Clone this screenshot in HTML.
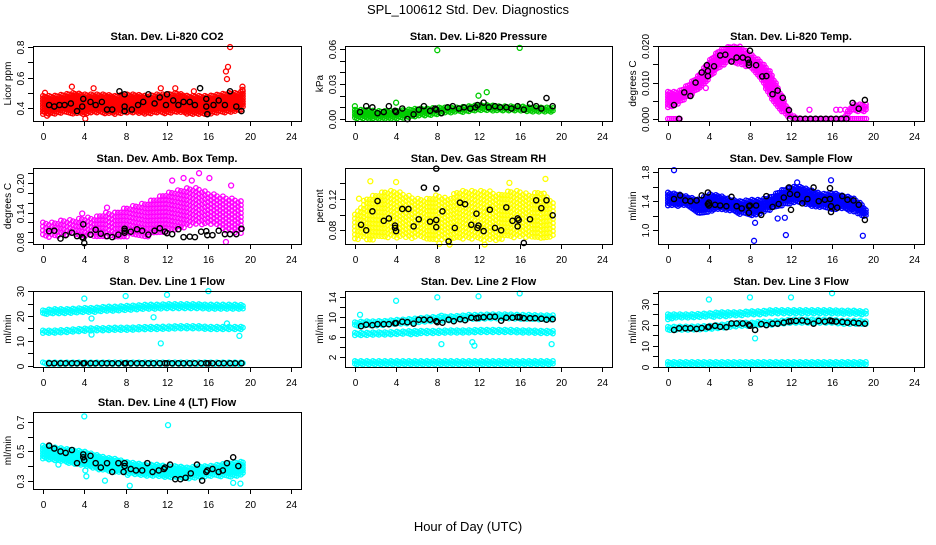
<!DOCTYPE html>
<html><head><meta charset="utf-8"><style>
html,body{margin:0;padding:0;background:#fff;}
svg text{font-family:"Liberation Sans",Arial,sans-serif;}
</style></head><body>
<svg id="chart" width="936" height="540" viewBox="0 0 936 540" xmlns="http://www.w3.org/2000/svg">
<text x="468" y="14" text-anchor="middle" font-size="13">SPL_100612  Std. Dev. Diagnostics</text>
<text x="468" y="531" text-anchor="middle" font-size="13">Hour of Day (UTC)</text>
</svg>
<script>
// shared x ticks and band times
const xTicks = [0,4,8,12,16,20,24];
const bandT = [0,1,2,3,4,5,6,7,8,9,10,11,12,13,14,15,16,17,18,19,19.4];
const lineT = [0.6,1.1,1.7,2.2,2.8,3.3,3.9,4,4.6,5.1,5.7,6.2,6.7,7.3,7.9,8,8.5,9.1,9.6,10.2,10.7,11.3,11.8,12,12.5,13.1,13.6,14.2,14.7,15.3,15.8,16,16.4,17,17.5,18.1,18.6,19.2];

// CO2
const co2Lo = [.36,.36,.37,.36,.36,.37,.36,.36,.37,.37,.36,.37,.36,.37,.36,.36,.36,.37,.37,.38,.40];
const co2Hi = [.48,.48,.49,.50,.49,.49,.49,.48,.49,.49,.48,.49,.49,.50,.48,.48,.48,.49,.50,.50,.52];
const co2OutT = [18.1,17.7,17.9,17.8,19.3,19.3,2.8,4.9,4.1,0.4,11.4,12.8,0.2,14.6];
const co2OutV = [0.8,0.64,0.67,0.59,0.54,0.52,0.54,0.53,0.33,0.35,0.53,0.53,0.50,0.51];
const co2BlkT = [0.6,1.1,1.6,2.1,2.7,3.3,3.8,3.9,4.6,5.1,5.7,6.2,6.7,7.4,7.9,7.9,7.9,8.6,9.2,9.7,10.2,10.8,11.3,11.9,12,12.6,13.1,13.6,14.2,14.7,15.2,15.8,15.8,15.9,16.5,17,17.6,18.1,18.7,19.2];
const co2BlkV = [.42,.41,.42,.42,.43,.38,.41,.46,.44,.42,.44,.39,.39,.51,.49,.41,.38,.39,.42,.44,.49,.43,.47,.42,.49,.45,.42,.44,.44,.42,.53,.46,.41,.36,.42,.45,.42,.51,.41,.38];

// Pressure
const prsLo = [0,0,0,0,0,.001,.002,.003,.004,.005,.006,.006,.007,.007,.007,.007,.007,.006,.006,.006,.007];
const prsHi = [.008,.008,.007,.007,.007,.008,.009,.009,.010,.010,.010,.011,.012,.012,.011,.011,.011,.010,.010,.010,.009];
const prsOutT = [8,16,12,12.8,4,0];
const prsOutV = [.059,.061,.020,.023,.014,.011];
const prsBlkT = [0.5,1.1,1.7,2.2,2.8,3.3,3.9,4,4.6,5.1,5.7,6.2,6.7,7.3,7.8,7.9,8.4,9,9.5,10.1,10.6,11.2,11.7,11.9,12.5,13,13.6,14.1,14.7,15.2,15.8,16.4,17,17.6,18.1,18.6,19.2];
const prsBlkV = [.006,.011,.010,.005,.006,.011,.007,.006,.009,0,.004,.008,.011,.007,.009,.008,.005,.010,.011,.009,.010,.009,.010,.012,.014,.010,.011,.010,.010,.009,.011,.008,.013,.011,.009,.018,.011];

// Li-820 temp
const tmpLo = [.003,.004,.006,.008,.011,.014,.016,.015,.014,.011,.006,.002,0,0,0,0,0,0,.002,.002,.002];
const tmpHi = [.0075,.0075,.0095,.012,.016,.019,.020,.020,.018,.016,.013,.007,.001,0,0,0,0,0,.004,.004,.004];
const tmpZeroT = [0,1.2,17,19.4];
const tmpOutT = [13.8,16.4,16.8,17.3,3.7];
const tmpOutV = [.0025,.0025,.0025,.0025,.0085];
const tmpBlkT = [0.6,1.1,1.6,2.2,2.7,3.3,3.8,3.9,3.9,4.5,5.1,5.6,6.2,6.7,7.3,7.8,7.9,7.9,8,8.6,9.2,9.6,10.2,10.7,11.2,11.8,11.9,12.4,12.9,13.4,13.9,14.4,14.9,15.4,15.9,16.4,16.9,17.4,18,18.6,19.2];
const tmpBlkV = [.0038,0,.0073,.0063,.0100,.0128,.0148,.0132,.0118,.0145,.0175,.0177,.0158,.0169,.0169,.0164,.0148,.0155,.0188,.0148,.0117,.0118,.0068,.0078,.0058,.0024,0,0,0,0,0,0,0,0,0,0,0,0,.0044,.0028,.0052];

// Amb box temp
const ambLo = [.09,.09,.095,.095,.09,.09,.09,.09,.09,.09,.09,.095,.10,.105,.11,.115,.115,.11,.10,.095,.09];
const ambHi = [.12,.12,.125,.125,.13,.13,.14,.14,.15,.155,.16,.17,.18,.185,.19,.19,.18,.175,.17,.165,.16];
const ambOutT = [15.1,13.6,16.1,17.7,3.8,6.2,12.5,14.4,18.2];
const ambOutV = [.22,.21,.21,.08,.138,.15,.205,.205,.195];
const ambBlkT = [0.6,1.1,1.7,2.2,2.8,3.3,3.8,3.9,3.9,4,4.6,5.1,5.6,6.2,6.7,7.3,7.9,7.9,7.9,8.5,9.1,9.6,10.2,10.8,11.3,11.8,12,12.5,13.1,13.6,14.2,14.7,15.3,15.8,15.9,16.4,17,17.6,18.1,18.7,19.2];
const ambBlkV = [.102,.103,.087,.094,.099,.092,.090,.116,.088,.078,.095,.105,.097,.092,.090,.095,.107,.103,.099,.101,.106,.103,.095,.103,.108,.101,.098,.096,.106,.090,.091,.090,.101,.102,.094,.094,.103,.096,.096,.096,.107];

// Gas stream RH
const rhLo = [.068,.068,.068,.07,.07,.07,.07,.068,.068,.066,.07,.068,.068,.066,.068,.07,.07,.07,.07,.07,.075];
const rhHi = [.10,.12,.125,.13,.13,.125,.12,.12,.125,.12,.13,.13,.13,.13,.125,.13,.13,.125,.13,.12,.11];
const rhOutT = [1.5,4,15,18.5,9.2,0.4,8.2,12.6];
const rhOutV = [.142,.141,.140,.145,.062,.12,.063,.062];
const rhBlkT = [0.6,1.1,1.7,2.2,2.8,3.3,3.9,3.9,4,4.6,5.2,5.7,6.2,6.7,7.3,7.9,7.9,7.9,7.9,8.5,9.1,9.7,10.2,10.7,11.3,11.8,11.9,12,12.5,13.1,13.6,14.2,14.7,15.3,15.8,15.9,15.8,16.4,17,17.6,18.1,18.6,19.2];
const rhBlkV = [.087,.080,.104,.117,.092,.095,.086,.083,.079,.107,.107,.085,.094,.134,.091,.133,.093,.084,.158,.104,.066,.083,.115,.113,.087,.101,.083,.086,.079,.106,.083,.080,.109,.092,.095,.093,.085,.064,.094,.118,.108,.118,.099];

// Sample flow
const smpLo = [1.33,1.33,1.33,1.22,1.25,1.28,1.27,1.22,1.20,1.22,1.28,1.33,1.37,1.38,1.33,1.30,1.28,1.30,1.25,1.18,1.17];
const smpHi = [1.52,1.50,1.46,1.42,1.50,1.48,1.43,1.40,1.42,1.42,1.46,1.55,1.60,1.60,1.55,1.50,1.52,1.48,1.45,1.35,1.25];
const smpOutT = [0.6,8.4,11.5,19,15.9,8.5,10.7,11.4,12.6];
const smpOutV = [1.83,0.85,0.93,0.92,1.69,1.10,1.16,1.17,1.66];
const smpBlkT = [0.6,1.2,1.7,2.2,2.8,3.3,3.9,3.9,4,4,4.6,5.1,5.7,6.2,6.7,7.2,7.9,7.9,8,8.6,9.1,9.6,10.2,10.8,11.3,11.8,11.9,12,12.6,13.1,13.6,14.2,14.7,15.3,15.8,15.8,15.9,15.9,16.5,17,17.5,18.1,18.6,19.2];
const smpBlkV = [1.43,1.48,1.41,1.40,1.41,1.48,1.52,1.36,1.34,1.38,1.35,1.34,1.33,1.46,1.33,1.30,1.24,1.33,1.34,1.34,1.21,1.47,1.32,1.36,1.45,1.59,1.50,1.28,1.49,1.37,1.43,1.59,1.40,1.42,1.58,1.43,1.33,1.25,1.31,1.47,1.42,1.41,1.35,1.14];

// Line 1
const l1ULo = [20.5,21,21,21.2,21.5,21.5,22,22,22.3,22.5,22.8,22.8,23,23,23,23,22.8,22.8,22.8,22.8,22.5];
const l1UHi = [22.3,22.8,22.8,23,23.3,23.3,23.8,23.8,24.1,24.3,24.6,24.6,24.8,24.8,24.8,24.8,24.6,24.6,24.6,24.6,24.3];
const l1MLo = [13,13,13.2,13.5,13.8,14,14,14.2,14.2,14.3,14.5,14.5,14.6,14.8,14.8,14.8,14.5,14.5,14.5,14.5,14.5];
const l1MHi = [14.2,14.2,14.4,14.7,15,15.2,15.2,15.4,15.4,15.5,15.7,15.7,15.8,16,16,16,15.7,15.7,15.7,15.7,15.7];
const l1BLo = [0.6,0.6,0.6,0.6,0.6,0.6,0.6,0.6,0.6,0.6,0.6,0.6,0.6,0.6,0.6,0.6,0.6,0.6,0.6,0.6,0.6];
const l1BHi = [1.4,1.4,1.4,1.4,1.4,1.4,1.4,1.4,1.4,1.4,1.4,1.4,1.4,1.4,1.4,1.4,1.4,1.4,1.4,1.4,1.4];
const l1OutT = [4,8,12,16,10.7,11.4,4.7,4.7,19,17.8];
const l1OutV = [27,28,28.5,30,19.5,9,19,12.5,12,17];
const l1BlkV = [1,1,1,1,1,1,1,1,1,1,1,1,1,1,1,1,1,1,1,1,1,1,1,1,1,1,1,1,1,1,1,1,1,1,1,1,1,1];

// Line 2
const l2ULo = [8,8.2,8.2,8.3,8.5,8.6,8.8,9,9.1,9.2,9.3,9.5,9.5,9.6,9.6,9.6,9.5,9.5,9.4,9.4,9.4];
const l2UHi = [9,9.2,9.2,9.3,9.5,9.6,9.8,10,10.1,10.2,10.3,10.5,10.5,10.6,10.6,10.6,10.5,10.5,10.4,10.4,10.4];
const l2MLo = [6.3,6.3,6.4,6.4,6.5,6.5,6.6,6.7,6.7,6.8,6.8,6.8,6.9,6.9,6.9,6.9,6.8,6.8,6.7,6.7,6.6];
const l2MHi = [6.9,6.9,7,7,7.1,7.2,7.3,7.3,7.3,7.4,7.4,7.4,7.5,7.5,7.5,7.5,7.4,7.4,7.3,7.3,7.2];
const l2BLo = [0.5,0.5,0.5,0.5,0.5,0.5,0.5,0.5,0.5,0.5,0.5,0.5,0.5,0.5,0.5,0.5,0.5,0.5,0.5,0.5,0.5];
const l2BHi = [1.2,1.2,1.2,1.2,1.2,1.2,1.2,1.2,1.2,1.2,1.2,1.2,1.2,1.2,1.2,1.2,1.2,1.2,1.2,1.2,1.2];
const l2OutT = [4,8,12,16,8.4,11.6,11.4,19.1,0.5,8.4];
const l2OutV = [13.3,14,14.2,14.8,4.6,4.3,5,4.6,10.5,10.3];
const l2BlkV = [8.2,8.5,8.4,8.6,8.6,8.6,8.8,8.8,9.1,9.0,8.7,9.5,9.5,9.5,9.2,9.0,8.9,9.5,9.2,9.6,9.4,9.9,9.8,9.9,10.0,10.1,10.1,9.3,9.9,9.9,10.0,10.0,9.8,9.8,9.8,9.7,9.5,9.6];

// Line 3
const l3ULo = [22.5,23,23,23.2,23.5,23.8,24,24,24.5,24.5,25,25,25,25,25,25,25,24.8,24.8,24.5,24.5];
const l3UHi = [25,25,25,25.2,25.5,26,26,26,26.5,26.5,27,27,27,27,27,27,27,26.8,26.8,26.5,26.5];
const l3MLo = [17,17.5,17.5,17.5,17.8,18,18.5,19,19,19.5,19.5,20,20.5,20.5,20.5,20.5,20.5,20,20,20,19.5];
const l3MHi = [19,19.2,19.2,19.3,19.5,20,20.5,21,21,21.5,21.5,22,22.5,22.5,22.5,22.5,22.5,22,22,22,21.5];
const l3BLo = [0.3,0.3,0.3,0.3,0.3,0.3,0.3,0.3,0.3,0.3,0.3,0.3,0.3,0.3,0.3,0.3,0.3,0.3,0.3,0.3,0.3];
const l3BHi = [2.3,2.3,2.3,2.3,2.3,2.3,2.3,2.3,2.3,2.3,2.3,2.3,2.3,2.3,2.3,2.3,2.3,2.3,2.3,2.3,2.3];
const l3OutT = [4,8,12,16,8.5,8.5];
const l3OutV = [32,33,33,35,13.5,17.5];
const l3BlkV = [17.5,18.3,18.3,18.3,18.0,18.4,18.8,19.0,19.5,19.0,18.8,20.6,20.6,20.6,20.0,19.5,17.5,20.3,19.8,20.5,20.5,21.0,21.5,21.7,21.8,22.0,21.5,20.5,21.8,21.5,22.0,21.7,21.5,21.3,21.0,21.0,20.7,20.5];

// Line 4
const l4Lo = [.45,.44,.43,.41,.40,.38,.37,.36,.35,.34,.33,.33,.32,.32,.31,.32,.33,.33,.32,.33,.34];
const l4Hi = [.54,.53,.52,.51,.50,.48,.46,.45,.43,.42,.41,.41,.40,.40,.39,.40,.40,.41,.42,.43,.43];
const l4OutT = [4,12.1,8.4,4.2,18.4,19.1,6,4.1,8.2,1.5];
const l4OutV = [.74,.68,.265,.33,.285,.28,.30,.37,.34,.41];
const l4BlkT = [0.6,1.1,1.7,2.2,2.8,3.3,3.9,3.9,4,4.6,5.1,5.6,6.2,6.7,7.3,7.8,7.9,7.9,8.5,9,9.6,10.1,10.6,11.2,11.7,11.8,12.3,12.8,13.3,13.8,14.3,14.9,15.4,15.8,15.9,16.4,17,17.4,17.8,18.4,18.9];
const l4BlkV = [.54,.52,.50,.49,.51,.42,.48,.46,.44,.47,.42,.39,.42,.36,.42,.36,.42,.40,.38,.37,.37,.42,.36,.37,.38,.39,.41,.31,.31,.32,.35,.41,.30,.36,.37,.38,.36,.37,.42,.46,.40];

const NS = "http://www.w3.org/2000/svg";
const svg = document.getElementById('chart');
const cols = [[33,301],[345,612],[658,924]];
const rows = [[46,121],[168,244],[291,367],[412,489]];

function mk(tag, attrs, parent){
  const e = document.createElementNS(NS, tag);
  for (const k in attrs) e.setAttribute(k, attrs[k]);
  (parent||svg).appendChild(e);
  return e;
}

const panels = [
 {title:"Stan. Dev. Li-820 CO2", ylab:"Licor ppm", c:0,r:0, y:[0.315,0.807], ticks:[0.4,0.5,0.6,0.7,0.8], labels:["0.4","","0.6","","0.8"], color:"#ff0000",
  bands:[[bandT,co2Lo,co2Hi]], outT:co2OutT,outV:co2OutV, bT:co2BlkT,bV:co2BlkV},
 {title:"Stan. Dev. Li-820 Pressure", ylab:"kPa", c:1,r:0, y:[-0.0017,0.0626], ticks:[0,0.01,0.02,0.03,0.04,0.05,0.06], labels:["0.00","","","0.03","","","0.06"], color:"#00cc00",
  bands:[[bandT,prsLo,prsHi]], outT:prsOutT,outV:prsOutV, bT:prsBlkT,bV:prsBlkV},
 {title:"Stan. Dev. Li-820 Temp.", ylab:"degrees C", c:2,r:0, y:[-0.0006,0.0201], ticks:[0,0.005,0.01,0.015,0.02], labels:["0.000","","0.010","","0.020"], color:"#ff00ff",
  bands:[[bandT,tmpLo,tmpHi],[tmpZeroT.slice(0,2),[0,0],[0,0]],[tmpZeroT.slice(2,4),[0,0],[0,0]]], outT:tmpOutT,outV:tmpOutV, bT:tmpBlkT,bV:tmpBlkV},
 {title:"Stan. Dev. Amb. Box Temp.", ylab:"degrees C", c:0,r:1, y:[0.076,0.2305], ticks:[0.08,0.10,0.12,0.14,0.16,0.18,0.20,0.22], labels:["0.08","","","0.14","","","0.20",""], color:"#ff00ff",
  bands:[[bandT,ambLo,ambHi]], outT:ambOutT,outV:ambOutV, bT:ambBlkT,bV:ambBlkV, sparse:true},
 {title:"Stan. Dev. Gas Stream RH", ylab:"percent", c:1,r:1, y:[0.0627,0.1588], ticks:[0.08,0.10,0.12,0.14], labels:["0.08","","0.12",""], color:"#ffff00",
  bands:[[bandT,rhLo,rhHi]], outT:rhOutT,outV:rhOutV, bT:rhBlkT,bV:rhBlkV, sparse:true},
 {title:"Stan. Dev. Sample Flow", ylab:"ml/min", c:2,r:1, y:[0.806,1.86], ticks:[1.0,1.2,1.4,1.6,1.8], labels:["1.0","","1.4","","1.8"], color:"#0000ff",
  bands:[[bandT,smpLo,smpHi]], outT:smpOutT,outV:smpOutV, bT:smpBlkT,bV:smpBlkV},
 {title:"Stan. Dev. Line 1 Flow", ylab:"ml/min", c:0,r:2, y:[-0.5,30.04], ticks:[0,5,10,15,20,25,30], labels:["0","","10","","20","","30"], color:"#00ffff",
  bands:[[bandT,l1ULo,l1UHi],[bandT,l1MLo,l1MHi],[bandT,l1BLo,l1BHi]], outT:l1OutT,outV:l1OutV, bT:lineT,bV:l1BlkV},
 {title:"Stan. Dev. Line 2 Flow", ylab:"ml/min", c:1,r:2, y:[0,15.27], ticks:[2,4,6,8,10,12,14], labels:["2","","6","","10","","14"], color:"#00ffff",
  bands:[[bandT,l2ULo,l2UHi],[bandT,l2MLo,l2MHi],[bandT,l2BLo,l2BHi]], outT:l2OutT,outV:l2OutV, bT:lineT,bV:l2BlkV},
 {title:"Stan. Dev. Line 3 Flow", ylab:"ml/min", c:2,r:2, y:[-0.14,36.05], ticks:[0,5,10,15,20,25,30,35], labels:["0","","10","","20","","30",""], color:"#00ffff",
  bands:[[bandT,l3ULo,l3UHi],[bandT,l3MLo,l3MHi],[bandT,l3BLo,l3BHi]], outT:l3OutT,outV:l3OutV, bT:lineT,bV:l3BlkV},
 {title:"Stan. Dev. Line 4 (LT) Flow", ylab:"ml/min", c:0,r:3, y:[0.243,0.77], ticks:[0.3,0.4,0.5,0.6,0.7], labels:["0.3","","0.5","","0.7"], color:"#00ffff",
  bands:[[bandT,l4Lo,l4Hi]], outT:l4OutT,outV:l4OutV, bT:l4BlkT,bV:l4BlkV}
];

function interp(ts, vs, t){
  if (t <= ts[0]) return vs[0];
  for (let i=1;i<ts.length;i++){
    if (t <= ts[i]){ const f=(t-ts[i-1])/(ts[i]-ts[i-1]); return vs[i-1]+f*(vs[i]-vs[i-1]); }
  }
  return vs[vs.length-1];
}

panels.forEach((p, pi) => {
  const [x0,x1] = cols[p.c], [y0,y1] = rows[p.r];
  const xs = t => x0 + (t + 0.96) / 25.92 * (x1 - x0);
  const ys = v => y1 - (v - p.y[0]) / (p.y[1] - p.y[0]) * (y1 - y0);
  const g = mk('g', {});
  
  
  const t = mk('text', {x:(x0+x1)/2, y:y0-6, 'text-anchor':'middle', 'font-size':'11', 'font-weight':'bold'}, g);
  
  
  t.textContent = p.title;
  // bands (dense clouds)
  const cloud = mk('g', {fill:'none', stroke:p.color, 'stroke-width':'1.3'}, g);
  
  
  p.bands.forEach(b => {
    const [bt, lo, hi] = b;
    const px0 = xs(bt[0]), px1 = xs(bt[bt.length-1]);
    let k = 0;
    const dx = p.sparse ? 3 : 2;
    for (let px = px0; px <= px1 + 0.01; px += dx, k++){
      const tt = (px - x0) / (x1 - x0) * 25.92 - 0.96;
      const pl = ys(interp(bt, lo, tt)), ph = ys(interp(bt, hi, tt));
      const dy = p.sparse ? 4 : 2.6;
      const off = (k % 3) * dy / 3;
      let n = 0;
      for (let py = ph + off; py <= pl + 0.01 || n === 0; py += dy, n++){
        const c = mk('circle', {cx:px.toFixed(1), cy:Math.min(py,pl).toFixed(1), r:'2.3'}, cloud);
        
        
        if (n > 40) break;
      }
    }
  });
  p.outT.forEach((tv, i) => {
    const c = mk('circle', {cx:xs(tv), cy:ys(p.outV[i]), r:'2.5'}, cloud);
    
    
  });
  const blk = mk('g', {fill:'none', stroke:'#000', 'stroke-width':'1.4'}, g);
  
  
  p.bT.forEach((tv, i) => {
    const c = mk('circle', {cx:xs(tv), cy:ys(p.bV[i]), r:'2.6'}, blk);
    
    
  });
  // box
  const box = mk('rect', {x:x0+0.5, y:y0+0.5, width:x1-x0, height:y1-y0, fill:'none', stroke:'#000', 'stroke-width':'1'}, g);
  
  
  // x axis
  xTicks.forEach(v => {
    const X = Math.round(xs(v)) + 0.5;
    mk('line', {x1:X, x2:X, y1:y1, y2:y1+5, stroke:'#000'}, g);
    const tl = mk('text', {x:X, y:y1+19, 'text-anchor':'middle', 'font-size':'10'}, g);
    
    
    tl.textContent = v;
  });
  // y axis
  p.ticks.forEach((v, i) => {
    const Y = Math.round(ys(v)) + 0.5;
    mk('line', {x1:x0-5, x2:x0, y1:Y, y2:Y, stroke:'#000'}, g);
    if (p.labels[i]) {
      const tl = mk('text', {x:0, y:0, 'text-anchor':'middle', 'font-size':'10', transform:`translate(${x0-9},${Y}) rotate(-90)`}, g);
      
      
      tl.textContent = p.labels[i];
    }
  });
  const yl = mk('text', {x:0, y:0, 'text-anchor':'middle', 'font-size':'10', transform:`translate(${x0-22},${(y0+y1)/2}) rotate(-90)`}, g);
  
  
  yl.textContent = p.ylab;
});
</script>
</body></html>
